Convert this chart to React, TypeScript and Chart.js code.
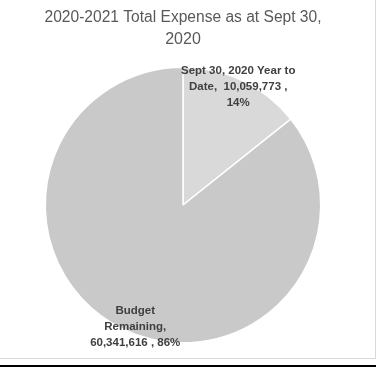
import React, { useEffect, useRef } from "react";
import { Chart, registerables } from "chart.js";

Chart.register(...registerables);

const titleLines = ["2020-2021 Total Expense as at Sept 30,", "2020"];
const categories = ["Sept 30, 2020 Year to Date", "Budget Remaining"];
const values = [10059773, 60341616];
const sliceColors = ["#d9d9d9", "#c9c9c9"];
// label placement relative to each slice: angle shift (deg) from slice middle, radius factor, wrap width
const labelShiftDeg = [-0.6, -4.3];
const labelRadiusFactor = [0.944, 0.95];
const labelWrapWidth = [122, 100];

const LABEL_FONT = "bold 11.5px 'Liberation Sans', Arial, sans-serif";

function wrapText(ctx: CanvasRenderingContext2D, text: string, maxW: number): string[] {
  const words = text.split(" ");
  const lines: string[] = [];
  let cur = "";
  for (const w of words) {
    const test = cur === "" ? w : cur + " " + w;
    if (cur !== "" && ctx.measureText(test.trim()).width > maxW) {
      lines.push(cur.trim());
      cur = w;
    } else {
      cur = test;
    }
  }
  if (cur.trim() !== "") lines.push(cur.trim());
  return lines;
}

const labelPlugin = {
  id: "sliceLabels",
  afterDatasetsDraw(chart: any) {
    const ctx: CanvasRenderingContext2D = chart.ctx;
    const meta = chart.getDatasetMeta(0);
    const data: number[] = chart.data.datasets[0].data;
    const total = data.reduce((a, b) => a + b, 0);
    ctx.save();
    ctx.font = LABEL_FONT;
    ctx.fillStyle = "#404040";
    ctx.textAlign = "center";
    ctx.textBaseline = "middle";
    meta.data.forEach((arc: any, i: number) => {
      const p = arc.getProps(["x", "y", "startAngle", "endAngle", "outerRadius"], true);
      const mid = (p.startAngle + p.endAngle) / 2 + (labelShiftDeg[i] * Math.PI) / 180;
      const r = p.outerRadius * labelRadiusFactor[i];
      const cx = p.x + Math.cos(mid) * r;
      const cy = p.y + Math.sin(mid) * r;
      const pct = Math.round((data[i] / total) * 100);
      const text = `${chart.data.labels[i]},  ${data[i].toLocaleString("en-US")} , ${pct}%`;
      const lines = wrapText(ctx, text, labelWrapWidth[i]);
      const lh = 16;
      lines.forEach((ln, k) => {
        ctx.fillText(ln, cx, cy + (k - (lines.length - 1) / 2) * lh);
      });
    });
    ctx.restore();
  },
};

export default function App() {
  const ref = useRef<HTMLCanvasElement | null>(null);
  useEffect(() => {
    if (!ref.current) return;
    const chart = new Chart(ref.current, {
      type: "pie",
      data: {
        labels: categories,
        datasets: [
          {
            data: values,
            backgroundColor: sliceColors,
            borderColor: "#ffffff",
            borderWidth: 1.5,
          },
        ],
      },
      options: {
        animation: false,
        responsive: false,
        layout: { padding: { left: 44.5, right: 54.5, top: 0, bottom: 32.5 } },
        plugins: {
          legend: { display: false },
          tooltip: { enabled: false },
          title: {
            display: true,
            text: titleLines,
            color: "#595959",
            font: { family: "'Liberation Sans', Arial, sans-serif", size: 16, weight: "normal", lineHeight: 1.4 },
            padding: { top: 6, bottom: 15.7 },
          },
        },
      },
      plugins: [labelPlugin],
    });
    return () => chart.destroy();
  }, []);
  return (
    <div style={{ position: "fixed", left: 0, top: 0, width: 376, height: 376, background: "#fff" }}>
      <canvas ref={ref} width={376} height={376} style={{ position: "absolute", left: 0, top: 0 }} />
      <div style={{ position: "absolute", left: 375, top: 0, width: 1, height: 359, background: "#d9d9d9" }} />
      <div style={{ position: "absolute", left: 0, top: 358, width: 376, height: 1, background: "#d9d9d9" }} />
      <div style={{ position: "absolute", left: 0, top: 365, width: 376, height: 2, background: "#000" }} />
    </div>
  );
}
